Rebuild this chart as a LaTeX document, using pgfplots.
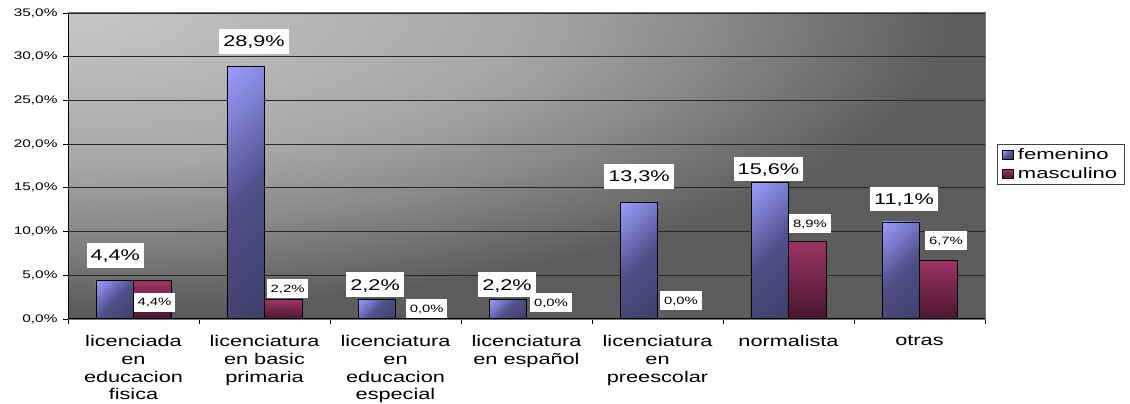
\documentclass[border=0pt]{standalone}
\usepackage{pgfplots}
\pgfplotsset{compat=1.18}
\usepackage{graphicx}
\usepackage{fontspec}
\setmainfont{Liberation Sans}
\definecolor{bgA}{HTML}{C6C6C6}
\definecolor{bgB}{HTML}{A6A6A6}
\definecolor{bgC}{HTML}{8A8A8A}
\definecolor{bgD}{HTML}{5C5C5C}
\definecolor{fA}{HTML}{9C9CFF}
\definecolor{fB}{HTML}{7878C8}
\definecolor{fC}{HTML}{50508A}
\definecolor{fD}{HTML}{3E3E68}
\definecolor{mA}{HTML}{9C3464}
\definecolor{mB}{HTML}{48162E}
\pgfdeclareradialshading{bgshade}{\pgfpoint{0bp}{0bp}}{color(0bp)=(bgA); color(12.5bp)=(bgB); color(17.5bp)=(bgC); color(24.25bp)=(bgD); color(50bp)=(bgD)}
\pgfdeclareverticalshading{femlin}{100bp}{color(0bp)=(fD); color(14.6bp)=(fD); color(50bp)=(fC); color(67.7bp)=(fB); color(85.4bp)=(fA); color(100bp)=(fA)}
\newcommand{\sx}[1]{\scalebox{1.4}[1]{#1}}
\newcommand{\lx}[1]{\scalebox{1.47}[1]{#1}}
\pgfplotsset{
  fem/.style={ybar, bar shift=-0.1435, draw=black, line width=0.8bp, shading=femlin, shading angle=45},
  masc/.style={ybar, bar shift=0.1435, draw=black, line width=0.8bp, top color=mA, bottom color=mB},
  mascz/.style={ybar, bar shift=0.1435, draw=black, line width=0.8bp, fill=mB},
}
\begin{document}
\begin{tikzpicture}
\begin{axis}[
  set layers=standard,
  scale only axis, width=917bp, height=306bp,
  xmin=-0.5, xmax=6.5, ymin=0, ymax=35,
  axis line style={draw=black!55, line width=1bp},
  ytick={0,5,...,35},
  yticklabels={\sx{0,0\%},\sx{5,0\%},\sx{10,0\%},\sx{15,0\%},\sx{20,0\%},\sx{25,0\%},\sx{30,0\%},\sx{35,0\%}},
  yticklabel style={font=\fontsize{11bp}{13bp}\selectfont, xshift=-2bp},
  ymajorgrids, major grid style={black!85, line width=1.1bp},
  xtick={0,...,6},
  xticklabels={
    {\sx{licenciada}\\\sx{en}\\\sx{educacion}\\\sx{fisica}},
    {\sx{licenciatura}\\\sx{en basic}\\\sx{primaria}},
    {\sx{licenciatura}\\\sx{en}\\\sx{educacion}\\\sx{especial}},
    {\sx{licenciatura}\\\sx{en español}},
    {\sx{licenciatura}\\\sx{en}\\\sx{preescolar}},
    {\sx{normalista}},
    {\sx{otras}}},
  xticklabel style={font=\fontsize{15.5bp}{17.7bp}\selectfont, align=center, yshift=-8bp},
  minor xtick={-0.5,0.5,...,6.5},
  tick align=outside, xtick pos=bottom, ytick pos=left,
  major tick length=5bp, minor tick length=5bp,
  major x tick style={draw=none},
  every tick/.style={black, line width=0.9bp},
  ybar, bar width=0.287,
  legend style={at={(axis description cs:1.0131,0.571)}, anchor=north west,
    draw=black!75, line width=0.7bp, fill=white,
    font=\fontsize{15bp}{18bp}\selectfont, inner xsep=5bp, inner ysep=2bp,
    row sep=3bp, cells={anchor=west},
    /tikz/every odd column/.append style={column sep=2bp}},
  legend image code/.code={\draw[#1, draw=black, line width=0.6bp] (0bp,-4.5bp) rectangle (11bp,4.5bp);},
]
\begin{pgfonlayer}{axis background}
\fill[bgD] (rel axis cs:0,0) rectangle (rel axis cs:1,1);
\begin{scope}
\clip (rel axis cs:0,0) rectangle (rel axis cs:1,1);
\shade[shading=bgshade] (rel axis cs:0,1) ellipse [x radius=917bp, y radius=306bp];
\end{scope}
\end{pgfonlayer}
% femenino
\addplot[fem] coordinates {(0,4.4)};
\addlegendentry{\lx{femenino}}
% masculino
\addplot[masc] coordinates {(0,4.4)};
\addlegendentry{\lx{masculino}}
\addplot[fem, forget plot] coordinates {(1,28.9)};
\addplot[fem, forget plot] coordinates {(2,2.2)};
\addplot[fem, forget plot] coordinates {(3,2.2)};
\addplot[fem, forget plot] coordinates {(4,13.3)};
\addplot[fem, forget plot] coordinates {(5,15.6)};
\addplot[fem, forget plot] coordinates {(6,11.1)};
\addplot[masc, forget plot] coordinates {(1,2.2)};
\addplot[mascz, forget plot] coordinates {(2,0.0)};
\addplot[mascz, forget plot] coordinates {(3,0.0)};
\addplot[mascz, forget plot] coordinates {(4,0.0)};
\addplot[masc, forget plot] coordinates {(5,8.9)};
\addplot[masc, forget plot] coordinates {(6,6.7)};
\draw[black, line width=1.2bp] (rel axis cs:0,1) -- (rel axis cs:0,0) -- (rel axis cs:1,0);
\tikzset{fl/.style={fill=white, inner xsep=4bp, inner ysep=6.7bp, text height=11.1bp, text depth=0bp, font=\fontsize{15.5bp}{17bp}\selectfont},
         ml/.style={fill=white, inner xsep=3.7bp, inner ysep=5.7bp, text height=7.6bp, text depth=0bp, font=\fontsize{10.6bp}{12bp}\selectfont}}
\node[fl] at (axis cs:-0.139,7.29) {\sx{4,4\%}};
\node[fl] at (axis cs:0.920,31.76) {\sx{28,9\%}};
\node[fl] at (axis cs:1.844,3.92) {\sx{2,2\%}};
\node[fl] at (axis cs:2.851,3.92) {\sx{2,2\%}};
\node[fl] at (axis cs:3.859,16.32) {\sx{13,3\%}};
\node[fl] at (axis cs:4.847,17.16) {\sx{15,6\%}};
\node[fl] at (axis cs:5.882,13.73) {\sx{11,1\%}};
\node[ml] at (axis cs:0.160,1.94) {\sx{4,4\%}};
\node[ml] at (axis cs:1.176,3.51) {\sx{2,2\%}};
\node[ml] at (axis cs:2.238,1.18) {\sx{0,0\%}};
\node[ml] at (axis cs:3.187,1.85) {\sx{0,0\%}};
\node[ml] at (axis cs:4.179,2.06) {\sx{0,0\%}};
\node[ml] at (axis cs:5.164,10.89) {\sx{8,9\%}};
\node[ml] at (axis cs:6.202,8.98) {\sx{6,7\%}};
\end{axis}
\pgfresetboundingbox
\path[use as bounding box] (-68bp,-85bp) rectangle (1062bp,319bp);
\end{tikzpicture}
\end{document}
